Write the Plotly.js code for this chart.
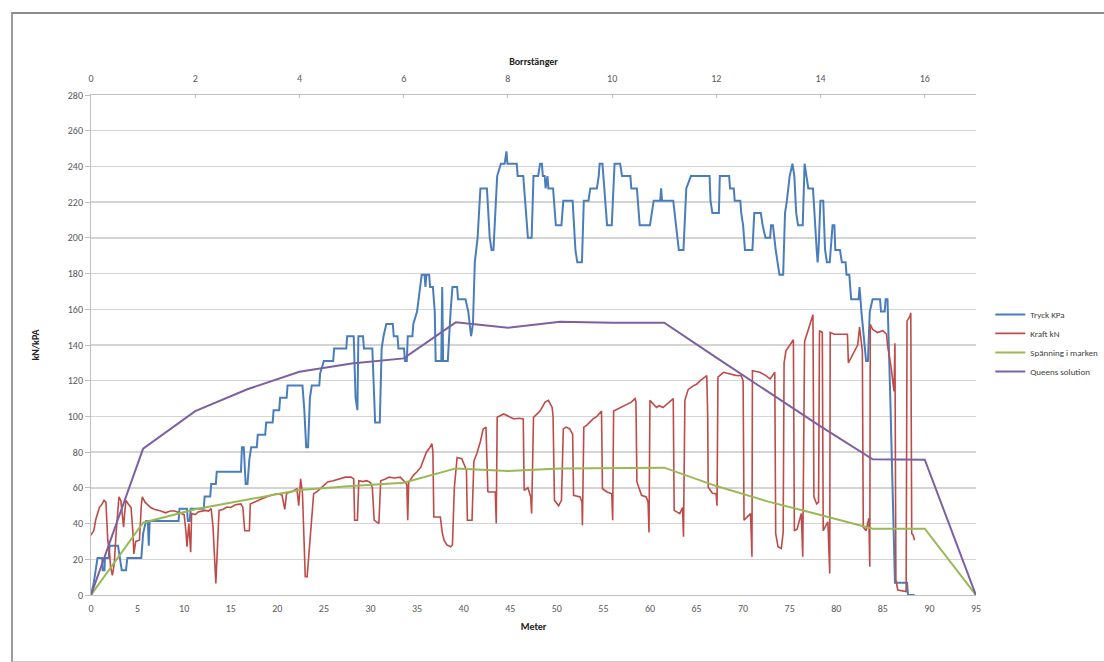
<!DOCTYPE html>
<html>
<head>
<meta charset="utf-8">
<script src="https://cdn.plot.ly/plotly-3.0.1.min.js"></script>
<style>
  html, body { margin:0; padding:0; background:#fff; }
  #wrap { position:relative; width:1104px; height:662px; overflow:hidden; }
  #chart { position:absolute; left:0; top:0; width:1104px; height:662px; }
  #frame { position:absolute; left:11px; top:12px; width:1300px; height:647px;
           border-top:2px solid #8c8c8c; border-left:2px solid #9a9a9a; border-bottom:1px solid #c8c8c8;
           pointer-events:none; }
</style>
</head>
<body>
<div id="wrap">
  <div id="chart"></div>
  <div id="frame"></div>
</div>
<script>
// ---- Data (metres along the bore) ----
const tryckM = [0,0.3,0.5,0.7,1.2,1.25,1.45,1.5,1.9,2.0,2.9,3.1,3.3,3.75,3.9,5.4,5.6,5.9,6.1,6.2,6.3,9.4,9.5,10.3,10.4,10.6,10.7,12.1,12.2,12.8,12.9,13.4,13.5,16.1,16.2,16.4,16.6,16.8,17.0,17.2,17.8,17.9,18.7,18.8,19.5,19.6,20.2,20.3,21.0,21.1,22.7,22.9,23.1,23.3,23.5,23.7,24.5,24.6,25.0,26.0,26.1,27.4,27.5,28.2,28.4,28.6,28.7,29.2,29.3,30.2,30.4,30.5,31.0,31.2,31.4,31.7,32.4,32.5,32.9,33.0,33.6,33.7,33.9,34.0,34.5,34.6,35.0,35.3,35.5,35.8,35.9,36.0,36.3,36.4,36.7,36.9,37.0,37.6,37.7,37.8,38.3,38.6,38.8,39.3,39.4,40.2,40.5,40.8,41.0,41.2,41.5,41.8,42.5,42.8,43.0,43.2,43.6,44.0,44.4,44.6,44.7,45.7,45.8,46.4,46.7,46.9,47.3,47.5,48.0,48.2,48.4,48.5,48.7,48.8,49.0,49.1,49.6,49.9,50.5,50.7,51.7,52.0,52.2,52.7,52.9,53.4,53.6,54.3,54.5,54.6,54.9,55.2,55.4,55.9,56.1,56.2,56.8,57.0,57.9,58.0,58.6,58.8,58.9,60.0,60.2,60.4,61.1,61.2,61.3,62.5,62.8,63.1,63.6,63.9,64.4,66.4,66.5,66.7,67.4,67.5,68.5,68.6,69.0,69.1,69.7,69.8,70.0,70.2,71.0,71.2,71.9,72.1,72.4,72.9,73.0,73.2,73.5,73.9,74.3,74.5,74.7,75.0,75.3,75.5,75.7,75.9,76.4,76.6,76.8,77.0,77.5,77.7,77.9,78.0,78.1,78.3,78.6,78.8,79.0,79.3,79.6,79.8,79.9,80.4,80.6,81.0,81.1,81.4,81.5,81.6,82.4,82.5,82.7,83.2,83.4,83.6,83.9,84.7,84.8,85.2,85.3,85.5,85.8,86.0,86.2,86.3,87.6,87.7,88.4];
const tryckKPa = [0,6.9,13.8,20.7,20.7,13.8,13.8,20.7,20.7,27.6,27.6,20.7,13.8,13.8,20.7,20.7,34.5,41.4,41.4,27.6,41.4,41.4,48.3,48.3,41.4,41.4,48.3,48.3,55.2,55.2,62.1,62.1,69,69,82.8,82.8,62.1,62.1,75.9,82.8,82.8,89.7,89.7,96.6,96.6,103.5,103.5,110.4,110.4,117.3,117.3,103.5,82.8,82.8,110.4,117.3,117.3,124.2,131.1,131.1,138,138,144.9,144.9,110.4,103.5,144.9,144.9,138,138,103.5,96.6,96.6,138,144.9,151.8,151.8,144.9,144.9,138,138,131.1,131.1,144.9,144.9,151.8,158.7,172.5,179.4,179.4,172.5,179.4,179.4,172.5,172.5,158.7,131.1,131.1,172.5,131.1,131.1,158.7,172.5,172.5,165.6,165.6,158.7,144.9,151.8,186.3,200.1,227.7,227.7,200.1,193.2,193.2,234.6,241.5,241.5,248.4,241.5,241.5,234.6,234.6,213.9,200.1,200.1,234.6,234.6,241.5,241.5,234.6,234.6,227.7,234.6,227.7,227.7,207,207,220.8,220.8,193.2,186.3,186.3,220.8,220.8,227.7,227.7,234.6,241.5,241.5,220.8,207,207,234.6,241.5,241.5,234.6,234.6,227.7,227.7,213.9,207,207,213.9,220.8,220.8,227.7,220.8,220.8,207,193.2,193.2,227.7,234.6,234.6,220.8,213.9,213.9,234.6,234.6,227.7,227.7,220.8,220.8,213.9,207,193.2,193.2,213.9,213.9,207,200.1,200.1,207,207,193.2,179.4,179.4,213.9,220.8,234.6,241.5,234.6,213.9,207,207,241.5,234.6,227.7,227.7,207,193.2,186.3,193.2,220.8,220.8,193.2,186.3,186.3,207,207,193.2,193.2,186.3,186.3,179.4,179.4,172.5,165.6,165.6,172.5,158.7,131.1,131.1,158.7,165.6,165.6,158.7,158.7,165.6,165.6,110.4,69,34.5,6.9,6.9,0,0];

const kraftM = [0,0.3,0.5,0.9,1.2,1.4,1.6,1.8,2.0,2.1,2.3,2.5,2.7,2.9,3.0,3.2,3.4,3.5,3.6,3.75,4.0,4.3,4.5,4.6,4.8,5.2,5.4,5.5,5.8,6.0,6.4,6.8,7.2,7.5,8.0,8.5,9.0,9.5,10.0,10.2,10.3,10.5,10.7,10.8,11.2,11.5,11.9,12.3,12.6,12.9,13.1,13.4,13.6,13.75,14.2,14.6,15.0,15.5,16.1,16.3,16.5,17.0,17.1,17.5,17.9,18.4,18.9,19.4,20.0,20.5,20.8,21.0,21.6,22.1,22.3,22.5,22.7,22.9,23.0,23.2,23.5,23.75,23.9,24.3,24.6,25.0,25.4,26.0,26.8,27.3,27.9,28.2,28.3,28.6,28.75,29.2,29.6,30.0,30.2,30.4,30.9,31.1,31.6,32.0,32.6,33.2,33.75,33.9,34.0,34.1,34.6,35.0,35.4,36.0,36.3,36.6,36.7,36.8,37.5,37.7,37.9,38.2,38.6,38.8,39.0,39.3,39.8,40.1,40.3,40.4,40.9,41.1,41.4,41.8,42.1,42.4,42.6,42.7,43.4,43.5,43.6,44.3,44.8,45.4,45.9,46.4,46.5,46.9,47.2,47.3,47.5,48.2,48.75,49.1,49.5,49.6,49.75,50.2,50.5,50.7,51.0,51.4,51.7,51.8,52.5,52.7,52.75,52.9,53.2,53.9,54.3,54.8,54.9,55.4,55.9,56.0,56.1,56.8,57.5,58.0,58.4,58.5,58.6,59.1,59.6,59.8,59.9,60.0,60.7,61.0,61.4,62.0,62.5,62.6,63.2,63.5,63.6,63.75,64.1,64.6,65.0,65.4,66.1,66.2,66.25,66.7,67.1,67.2,67.3,67.9,68.6,69.2,69.8,70.0,70.1,70.5,70.8,70.95,71.0,71.8,72.4,72.9,73.4,73.5,73.75,74.1,74.3,74.4,74.6,75.2,75.4,75.5,75.8,76.25,76.4,76.6,77.1,77.5,77.6,77.9,78.1,78.2,78.5,78.6,79.1,79.3,79.35,79.8,80.4,81.2,81.3,81.6,82.3,82.5,82.8,82.9,83.2,83.5,83.6,83.65,83.9,84.4,85.0,85.4,85.5,85.9,86.1,86.2,86.3,86.35,86.4,86.6,87.5,87.6,87.9,88.0,88.1,88.25,88.4];
const kraftKN = [33.5,36,42,49,51,53,52,30.7,23,15.8,11,17.7,35,53,55,53,42,38,45,53,51,49,35,23,30,30.7,50,55,52,51,49,48,47.5,47,46,47,47,46,45,35,27,40,24,45.6,45,46.5,47,47.4,47,48.4,38,6.5,30,47.4,48,49.3,49,50.5,51,49,36,36,51,52,53,54,55,56,56.7,56,48,57,58,59.5,50,65,57,30,10.2,10.2,30,45.6,56.7,58,59.5,61,63.3,64,65,66,66,65,41.9,41.9,64,63.5,64,63,60,41.9,40,64,65,66,65.5,66,63,62,41.9,63,67,69,71.6,80,82,84.7,80,43.7,43.7,35,30.7,28,27,28,60,77,76.3,73,70,41.9,41.9,75,79,86,93,94,58,57.7,57.7,40,99.5,101.4,100,98.6,99,98.6,58.6,60,55,45.6,99.5,103,108,109,105,100,53,50,53,93,94,93,90,55.8,54.9,52,39,94,95,98.6,100,103,59.5,57.7,56.7,41.9,103,105,107,108,110,108,63.3,55.8,54.9,52,35,109,105,106,105,108,110,47.4,45.6,49,32.6,109,115,117,118,120,122.8,100,60.5,57,56.7,50,122,124.7,123.8,123,122.8,120,41.9,43.7,45.6,21.4,125.6,124.7,123,121,124.7,34.4,27,26,35,130,136.7,141.4,143,36,37,45.6,21.4,142,150,157,55,51,52,148,147,36,41,12,147,146,146,146,130,133,140,150,136.7,38,36,43,15.8,151.6,148.8,147,148,146,140,127,118,114,141,60,8.4,2.8,1.9,153.5,156,158,34.4,33.5,30.7];

// Values at every drill-rod joint (Borrstänger), last point at the 95 m end
const rodNr = [0,1,2,3,4,5,6,7,8,9,10,11,12,13,14,15,16,16.98];
const spanning = [0,40.5,48,53.6,58.8,61,62.9,70.9,69.4,70.9,70.9,71.3,61,52.3,44.8,37.1,37.1,0];
const queens = [0,82,103,115.2,125,129.7,132.5,152.7,149.7,153,152.5,152.5,132.9,113.7,94.4,76,75.8,0];

const rodLength = 5.594;   // metres per Borrstång (top axis)
const xMax = 95;
const topTicks = [0,2,4,6,8,10,12,14,16];
const yTicks = [0,20,40,60,80,100,120,140,160,180,200,220,240,260,280];
const bottomTicks = [0,5,10,15,20,25,30,35,40,45,50,55,60,65,70,75,80,85,90,95];

const font = "Carlito, 'Liberation Sans', Arial, sans-serif";

const traces = [
  {x: tryckM, y: tryckKPa, name: 'Tryck KPa', type: 'scatter', mode: 'lines',
   line: {color: '#4a7ebb', width: 2}},
  {x: kraftM, y: kraftKN, name: 'Kraft kN', type: 'scatter', mode: 'lines',
   line: {color: '#be4b48', width: 1.6}},
  {x: rodNr, y: spanning, name: 'Spänning i marken', type: 'scatter', mode: 'lines', xaxis: 'x2',
   line: {color: '#98b954', width: 2}},
  {x: rodNr, y: queens, name: 'Queens solution', type: 'scatter', mode: 'lines', xaxis: 'x2',
   line: {color: '#7d60a0', width: 2}}
];

const layout = {
  width: 1104, height: 662,
  margin: {l: 91, r: 128, t: 95, b: 67},
  paper_bgcolor: 'rgba(0,0,0,0)', plot_bgcolor: 'rgba(0,0,0,0)',
  font: {family: font, size: 10, color: '#595959'},
  showlegend: true,
  legend: {xref: 'container', yref: 'container', x: 0.897, xanchor: 'left', y: 0.547, yanchor: 'top',
           font: {family: font, size: 9, color: '#404040'},
           bgcolor: 'rgba(0,0,0,0)', itemwidth: 30, tracegroupgap: 0},
  xaxis: {range: [0, xMax], tickvals: bottomTicks, showgrid: false, zeroline: false,
          showline: true, linecolor: '#bfbfbf', linewidth: 1, ticks: '', ticklabelstandoff: 4,
          tickfont: {family: font, size: 10, color: '#595959'},
          title: {text: '<b>Meter</b>', font: {family: font, size: 10, color: '#222'}, standoff: 8}},
  xaxis2: {range: [0, xMax / rodLength], tickvals: topTicks, overlaying: 'x', side: 'top', anchor: 'y',
           showgrid: false, zeroline: false, showline: true, linecolor: '#bfbfbf', ticks: 'inside', ticklen: 3,
           tickcolor: '#bfbfbf', ticklabelstandoff: 8,
           tickfont: {family: font, size: 10, color: '#595959'},
           title: {text: '<b>Borrstänger</b>', font: {family: font, size: 10, color: '#222'}, standoff: 4}},
  yaxis: {range: [0, 280], tickvals: yTicks, showgrid: true, gridcolor: '#d4d4d4', gridwidth: 1.5,
          zeroline: false, showline: true, linecolor: '#bfbfbf', ticks: 'outside', ticklen: 5, tickcolor: '#bfbfbf',
          tickfont: {family: font, size: 10, color: '#595959'},
          title: {text: '<b>kN/kPA</b>', font: {family: font, size: 10, color: '#222'}, standoff: 26}}
};

Plotly.newPlot('chart', traces, layout, {displayModeBar: false, staticPlot: true});
</script>
</body>
</html>
